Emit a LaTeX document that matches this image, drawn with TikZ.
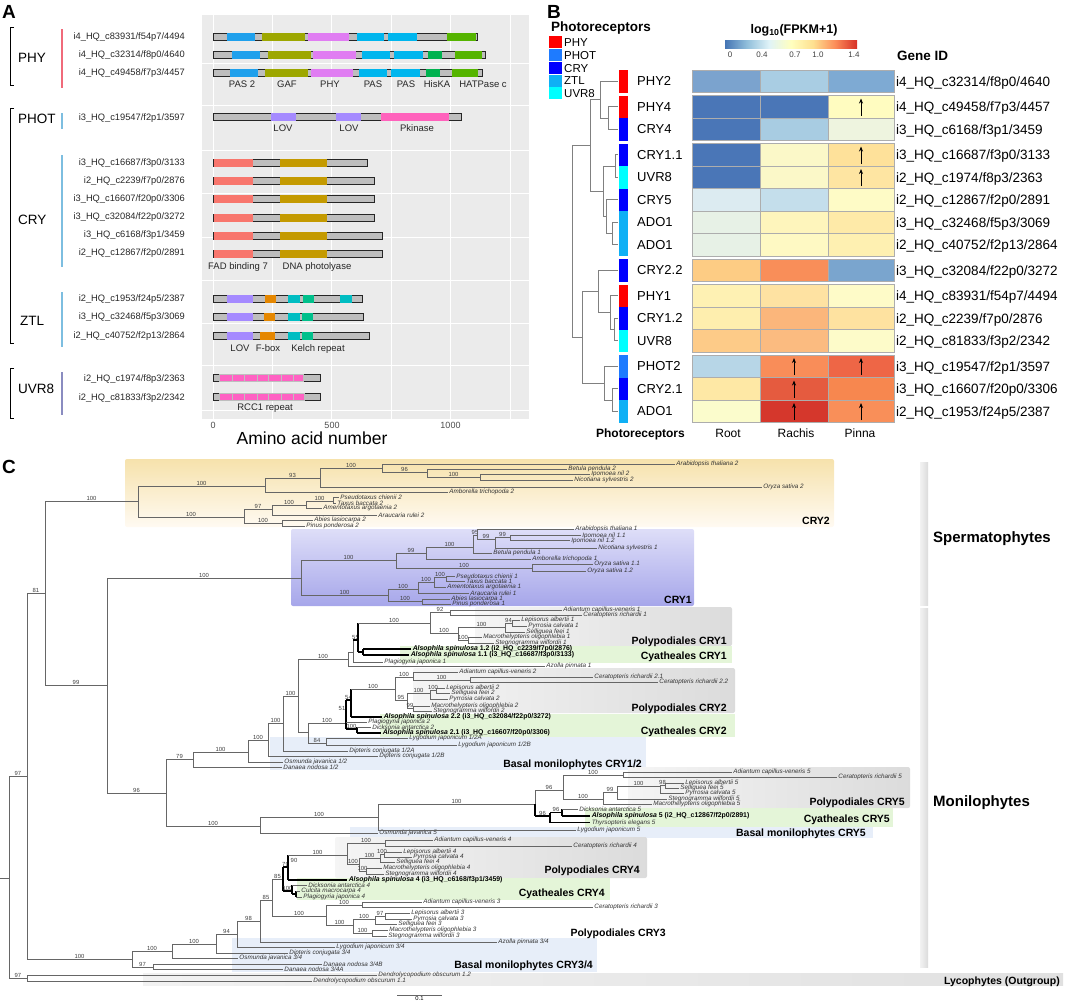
\documentclass[tikz,border=0pt]{standalone}
\usepackage{fontspec}
\setmainfont{Liberation Sans}
\usetikzlibrary{arrows.meta}
\definecolor{tg}{HTML}{666666}
\definecolor{panelbg}{HTML}{EBEBEB}
\definecolor{barg}{HTML}{BEBEBE}
\definecolor{dPAStwo}{HTML}{1FA0EC}
\definecolor{dGAF}{HTML}{9DA700}
\definecolor{dPHY}{HTML}{E07DF2}
\definecolor{dPAS}{HTML}{00B6EE}
\definecolor{dHisKA}{HTML}{00B24F}
\definecolor{dHATP}{HTML}{55B400}
\definecolor{dLOV}{HTML}{A58AFF}
\definecolor{dPkin}{HTML}{FF62BC}
\definecolor{dFAD}{HTML}{F8766D}
\definecolor{dDNA}{HTML}{C49A00}
\definecolor{dFbox}{HTML}{E58700}
\definecolor{dKelA}{HTML}{00BDC2}
\definecolor{dKelB}{HTML}{00C08B}
\definecolor{dRCC}{HTML}{FF61C3}
\definecolor{gPHY}{HTML}{F06A7A}
\definecolor{gBLU}{HTML}{7DBEE0}
\definecolor{gUVR}{HTML}{8A8CC0}
\definecolor{lPHY}{HTML}{FF0000}
\definecolor{lPHOT}{HTML}{1E7BFF}
\definecolor{lCRY}{HTML}{0000FF}
\definecolor{lZTL}{HTML}{0FB0F5}
\definecolor{lUVR}{HTML}{00FFFF}
\definecolor{cb0}{HTML}{4575B4}
\definecolor{cb1}{HTML}{91BFDB}
\definecolor{cb2}{HTML}{E0F3F8}
\definecolor{cb3}{HTML}{FFFFBF}
\definecolor{cb4}{HTML}{FEE090}
\definecolor{cb5}{HTML}{FC8D59}
\definecolor{cb6}{HTML}{D73027}
\definecolor{bxgreen}{HTML}{E4F5D8}
\definecolor{bxblue}{HTML}{E7EEF9}
\newcounter{nc}
\newcommand\hbr[4]{\stepcounter{nc}\draw[tree] (#1,#3) -- (#2,#3) node[midway,sv] (s\arabic{nc}) {#4};}
\newcommand\hbk[4]{\stepcounter{nc}\draw[blk] (#1,#3) -- (#2,#3) node[midway,sv] (s\arabic{nc}) {#4};}
\newcommand\vbr[3]{\draw[tree] (#1,#2) -- (#1,#3);}
\newcommand\vbk[3]{\draw[blk] (#1,#2) -- (#1,#3);}
\newcommand\lfa[4]{\stepcounter{nc}\draw[tree] (#1,#3) -- (#2,#3) node[lfl] (f\arabic{nc}) {#4};}
\newcommand\lfk[4]{\stepcounter{nc}\draw[blk] (#1,#3) -- (#2,#3) node[lfb] (f\arabic{nc}) {#4};}
\newcommand\lfkn[4]{\stepcounter{nc}\draw[blk] (#1,#3) -- (#2,#3) node[lfl] (f\arabic{nc}) {#4};}
\newcommand\pbar[2]{\filldraw[fill=barg,draw=black!85,line width=0.55pt] (213,#1-3.5) rectangle (#2,#1+3.5);}
\newcommand\dom[4]{\fill[#4] (#1,#3-3.6) rectangle (#2,#3+3.6);}
\newcommand\rcc[2]{\foreach \a/\b in {219/232,232/244,244/257,257/268,268/281,281/293,293/#2}{\filldraw[fill=dRCC,draw=barg,line width=0.4pt] (\a,#1-3.6) rectangle (\b,#1+3.6);}}
\newcommand\hmrow[4]{\definecolor{hmA}{HTML}{#2}\definecolor{hmB}{HTML}{#3}\definecolor{hmC}{HTML}{#4}%
 \filldraw[cell,fill=hmA] (692,#1) rectangle (760,#1+22.5);
 \filldraw[cell,fill=hmB] (760,#1) rectangle (828,#1+22.5);
 \filldraw[cell,fill=hmC] (828,#1) rectangle (894,#1+22.5);}
\newcommand\uparr[2]{\draw[-{Stealth[length=5pt,width=4pt]},line width=0.9pt] (#1,#2+20) -- (#1,#2+3);}
\begin{document}
\begin{tikzpicture}[x=1pt,y=-1pt,
  tree/.style={draw=tg,line width=0.55pt},
  blk/.style={draw=black,line width=1.1pt},
  sv/.style={anchor=south,font=\fontsize{5.9}{6}\selectfont,text=black!75,inner sep=0.4pt},
  lfl/.style={anchor=west,font=\fontsize{6.3}{6.5}\selectfont\itshape,text=black!80,inner sep=1.2pt},
  lfb/.style={anchor=west,font=\fontsize{6.9}{7}\selectfont\bfseries,text=black,inner sep=1.2pt},
  plab/.style={anchor=base west,font=\fontsize{19}{20}\selectfont\bfseries,inner sep=0pt},
  gene/.style={anchor=base east,font=\fontsize{9.3}{10}\selectfont,text=black!85,inner sep=0pt},
  grp/.style={anchor=base west,font=\fontsize{13.5}{14}\selectfont,inner sep=0pt},
  dl/.style={anchor=base,font=\fontsize{9.5}{10}\selectfont,text=black!85,inner sep=0pt},
  tick/.style={anchor=base,font=\fontsize{9}{10}\selectfont,text=black!70,inner sep=0pt},
  cell/.style={draw=black!32,line width=0.8pt},
  rl/.style={anchor=base west,font=\fontsize{13}{14}\selectfont,inner sep=0pt},
  gid/.style={anchor=base west,font=\fontsize{13.5}{14}\selectfont,inner sep=0pt},
  den/.style={draw=black!50,line width=0.8pt},
  sec/.style={anchor=base east,font=\fontsize{10.5}{11}\selectfont\bfseries,inner sep=0pt},
  big/.style={anchor=base west,font=\fontsize{15}{16}\selectfont\bfseries,inner sep=0pt}]
\useasboundingbox (0,0) rectangle (1065,1007);
%================ PANEL A =================
\node[plab] (pA) at (2,18) {A};
\fill[panelbg] (202,15) rectangle (529,419);
\foreach \yy in {63,105,150,193,237,280,323,365,410} \draw[white,line width=0.9pt] (202,\yy) -- (529,\yy);
\foreach \xx in {272.4,391.1,509.9} \draw[white,line width=0.5pt] (\xx,15) -- (\xx,419);
\foreach \xx in {213,331.8,450.5} \draw[white,line width=1pt] (\xx,15) -- (\xx,419);
\draw[black,line width=0.7pt] (14,27) -- (10,27) -- (10,85) -- (14,85);
\draw[black,line width=0.7pt] (14,108) -- (10,108) -- (10,343) -- (14,343);
\draw[black,line width=0.7pt] (14,368) -- (10,368) -- (10,418) -- (14,418);
\node[grp] (gPHYl) at (18,62) {PHY};
\node[grp] (gPHOTl) at (18,123) {PHOT};
\node[grp] (gCRYl) at (18,224) {CRY};
\node[grp] (gZTLl) at (20,325) {ZTL};
\node[grp] (gUVRl) at (18,393) {UVR8};
\draw[gPHY,line width=2.4pt] (62,29) -- (62,88);
\draw[gBLU,line width=2.4pt] (62,113) -- (62,129);
\draw[gBLU,line width=2.4pt] (62,155) -- (62,267);
\draw[gBLU,line width=2.4pt] (62,292) -- (62,347);
\draw[gUVR,line width=2.4pt] (62,372) -- (62,415);
\node[gene] (a1) at (185,39.4) {i4\_HQ\_c83931/f54p7/4494};
\node[gene] (a2) at (185,57.4) {i4\_HQ\_c32314/f8p0/4640};
\node[gene] (a3) at (185,75.4) {i4\_HQ\_c49458/f7p3/4457};
\node[gene] (a4) at (185,120.4) {i3\_HQ\_c19547/f2p1/3597};
\node[gene] (a5) at (185,165.4) {i3\_HQ\_c16687/f3p0/3133};
\node[gene] (a6) at (185,183.4) {i2\_HQ\_c2239/f7p0/2876};
\node[gene] (a7) at (185,201.4) {i3\_HQ\_c16607/f20p0/3306};
\node[gene] (a8) at (185,219.4) {i3\_HQ\_c32084/f22p0/3272};
\node[gene] (a9) at (185,237.4) {i3\_HQ\_c6168/f3p1/3459};
\node[gene] (a10) at (185,255.4) {i2\_HQ\_c12867/f2p0/2891};
\node[gene] (a11) at (185,301.4) {i2\_HQ\_c1953/f24p5/2387};
\node[gene] (a12) at (185,319.4) {i3\_HQ\_c32468/f5p3/3069};
\node[gene] (a13) at (185,338.4) {i2\_HQ\_c40752/f2p13/2864};
\node[gene] (a14) at (185,381.4) {i2\_HQ\_c1974/f8p3/2363};
\node[gene] (a15) at (185,400.4) {i2\_HQ\_c81833/f3p2/2342};
\pbar{37}{477}\dom{227}{255}{37}{dPAStwo}\dom{262}{305}{37}{dGAF}\dom{308}{349}{37}{dPHY}\dom{357}{384}{37}{dPAS}\dom{388}{417}{37}{dPAS}\dom{447}{476}{37}{dHATP}
\pbar{55}{485}\dom{232}{260}{55}{dPAStwo}\dom{268}{311}{55}{dGAF}\dom{313}{356}{55}{dPHY}\dom{362}{390}{55}{dPAS}\dom{394}{423}{55}{dPAS}\dom{428}{442}{55}{dHisKA}\dom{455}{482}{55}{dHATP}
\pbar{73}{482}\dom{230}{258}{73}{dPAStwo}\dom{265}{308}{73}{dGAF}\dom{311}{353}{73}{dPHY}\dom{359}{387}{73}{dPAS}\dom{391}{420}{73}{dPAS}\dom{426}{440}{73}{dHisKA}\dom{452}{478}{73}{dHATP}
\node[dl] (dl1) at (242,87.4) {PAS 2};
\node[dl] (dl2) at (287,87.4) {GAF};
\node[dl] (dl3) at (330,87.4) {PHY};
\node[dl] (dl4) at (373,87.4) {PAS};
\node[dl] (dl5) at (406,87.4) {PAS};
\node[dl] (dl6) at (437,87.4) {HisKA};
\node[dl] (dl7) at (483,87.4) {HATPase c};
\pbar{117}{461}\dom{271}{296}{117}{dLOV}\dom{336}{361}{117}{dLOV}\dom{381}{449}{117}{dPkin}
\node[dl] (dl8) at (283,131.4) {LOV};
\node[dl] (dl9) at (349,131.4) {LOV};
\node[dl] (dl10) at (417,131.4) {Pkinase};
\foreach \yy/\ee in {163/367,181/374,199/374,218/374,236/382,254/382}{\pbar{\yy}{\ee}\dom{214}{253}{\yy}{dFAD}\dom{280}{327}{\yy}{dDNA}}
\node[dl] (dl11) at (238,269.4) {FAD binding 7};
\node[dl] (dl12) at (317,269.4) {DNA photolyase};
\pbar{299}{362}\dom{227}{253}{299}{dLOV}\dom{265}{276}{299}{dFbox}\dom{288}{300}{299}{dKelA}\dom{303}{314}{299}{dKelB}\dom{340}{352}{299}{dKelA}
\pbar{317}{363}\dom{227}{253}{317}{dLOV}\dom{264}{275}{317}{dFbox}\dom{288}{300}{317}{dKelA}\dom{302}{313}{317}{dKelB}
\pbar{336}{369}\dom{227}{253}{336}{dLOV}\dom{260}{275}{336}{dFbox}\dom{288}{300}{336}{dKelA}\dom{302}{313}{336}{dKelB}
\node[dl] (dl13) at (240,351.4) {LOV};
\node[dl] (dl14) at (268,351.4) {F-box};
\node[dl] (dl15) at (318,351.4) {Kelch repeat};
\pbar{378}{320}\rcc{378}{303}
\pbar{397}{320}\rcc{397}{304}
\node[dl] (dl16) at (265,410.4) {RCC1 repeat};
\node[tick] (t0) at (213,428.2) {0};
\node[tick] (t500) at (332,428.2) {500};
\node[tick] (t1000) at (450.5,428.2) {1000};
\node[anchor=base,font=\fontsize{17.5}{18}\selectfont,inner sep=0pt] (xax) at (312,444.5) {Amino acid number};
%================ PANEL B =================
\node[plab] (pB) at (547,18) {B};
\node[anchor=base west,font=\fontsize{13.5}{14}\selectfont\bfseries,inner sep=0pt] (ltit) at (551,31.9) {Photoreceptors};
\fill[lPHY] (549,36) rectangle (562,48);
\fill[lPHOT] (549,49) rectangle (562,61);
\fill[lCRY] (549,62) rectangle (562,74);
\fill[lZTL] (549,74.5) rectangle (562,86.5);
\fill[lUVR] (549,87) rectangle (562,99);
\node[anchor=base west,font=\fontsize{11.5}{12}\selectfont,inner sep=0pt] (lg1) at (564,46.1) {PHY};
\node[anchor=base west,font=\fontsize{11.5}{12}\selectfont,inner sep=0pt] (lg2) at (564,59.1) {PHOT};
\node[anchor=base west,font=\fontsize{11.5}{12}\selectfont,inner sep=0pt] (lg3) at (564,72.1) {CRY};
\node[anchor=base west,font=\fontsize{11.5}{12}\selectfont,inner sep=0pt] (lg4) at (564,84.6) {ZTL};
\node[anchor=base west,font=\fontsize{11.5}{12}\selectfont,inner sep=0pt] (lg5) at (564,97.1) {UVR8};
\node[anchor=base,font=\fontsize{12.5}{13}\selectfont\bfseries,inner sep=0pt] (cbt) at (794,33.3) {log\textsubscript{10}(FPKM+1)};
\shade[left color=cb0,right color=cb1] (725,40) rectangle (747,48.3);
\shade[left color=cb1,right color=cb2] (747,40) rectangle (769,48.3);
\shade[left color=cb2,right color=cb3] (769,40) rectangle (791,48.3);
\shade[left color=cb3,right color=cb4] (791,40) rectangle (813,48.3);
\shade[left color=cb4,right color=cb5] (813,40) rectangle (835,48.3);
\shade[left color=cb5,right color=cb6] (835,40) rectangle (857,48.3);
\foreach \xx/\tt in {730/0,762/0.4,795/0.7,818/1.0,854/1.4}{\node[anchor=base,font=\fontsize{8}{9}\selectfont,text=black!75,inner sep=0pt] at (\xx,57.9) {\tt};}
\node[anchor=base west,font=\fontsize{13.5}{14}\selectfont\bfseries,inner sep=0pt] (gidt) at (897,60.9) {Gene ID};
\hmrow{70}{7BA3CE}{A9CDE3}{7EAAD3}
\hmrow{95.5}{4A76B7}{4A76B7}{FFFCC0}
\hmrow{118}{4A76B7}{A8CCE2}{EEF4DF}
\hmrow{143.5}{4A76B7}{FBF8C8}{FEE19A}
\hmrow{166}{4A76B7}{FBF8C8}{FEE5A2}
\hmrow{188.5}{DCEBF1}{C4DEEB}{FEFBC6}
\hmrow{211}{E7F1E6}{FEF5BC}{FEEAA8}
\hmrow{233.5}{E7F1E6}{FEF9C3}{FEF0B1}
\hmrow{259}{FDCC84}{F98E59}{7AA5CE}
\hmrow{284.5}{FEF1B3}{FEE2A2}{FEFBC8}
\hmrow{307}{FEEEAE}{FBB67B}{FEE2A0}
\hmrow{329.5}{FDCB88}{FBBB80}{FDFBC9}
\hmrow{355}{B7D6E7}{F98D59}{EE6646}
\hmrow{377.5}{FEE8A5}{E55B3F}{F7874F}
\hmrow{400}{FBFCCC}{D5372C}{F98F59}
\uparr{861}{95.5}\uparr{861}{143.5}\uparr{861}{166}
\uparr{794}{355}\uparr{861}{355}\uparr{794}{377.5}\uparr{794}{400}\uparr{861}{400}
\foreach \tp/\cc in {70/lPHY,95.5/lPHY,118/lCRY,143.5/lCRY,166/lUVR,188.5/lCRY,211/lZTL,233.5/lZTL,259/lCRY,284.5/lPHY,307/lCRY,329.5/lUVR,355/lPHOT,377.5/lCRY,400/lZTL}{\fill[\cc] (619,\tp) rectangle (628,\tp+22.5);}
\node[rl] (r1) at (637,85.95) {PHY2};
\node[rl] (r2) at (637,111.45) {PHY4};
\node[rl] (r3) at (637,133.95) {CRY4};
\node[rl] (r4) at (637,159.45) {CRY1.1};
\node[rl] (r5) at (637,181.95) {UVR8};
\node[rl] (r6) at (637,204.45) {CRY5};
\node[rl] (r7) at (637,226.95) {ADO1};
\node[rl] (r8) at (637,249.45) {ADO1};
\node[rl] (r9) at (637,274.95) {CRY2.2};
\node[rl] (r10) at (637,300.45) {PHY1};
\node[rl] (r11) at (637,322.95) {CRY1.2};
\node[rl] (r12) at (637,345.45) {UVR8};
\node[rl] (r13) at (637,370.95) {PHOT2};
\node[rl] (r14) at (637,393.45) {CRY2.1};
\node[rl] (r15) at (637,415.95) {ADO1};
\node[gid] (b1) at (896,86.1) {i4\_HQ\_c32314/f8p0/4640};
\node[gid] (b2) at (896,111.6) {i4\_HQ\_c49458/f7p3/4457};
\node[gid] (b3) at (896,134.1) {i3\_HQ\_c6168/f3p1/3459};
\node[gid] (b4) at (896,159.6) {i3\_HQ\_c16687/f3p0/3133};
\node[gid] (b5) at (896,182.1) {i2\_HQ\_c1974/f8p3/2363};
\node[gid] (b6) at (896,204.6) {i2\_HQ\_c12867/f2p0/2891};
\node[gid] (b7) at (896,227.1) {i3\_HQ\_c32468/f5p3/3069};
\node[gid] (b8) at (896,249.6) {i2\_HQ\_c40752/f2p13/2864};
\node[gid] (b9) at (896,275.1) {i3\_HQ\_c32084/f22p0/3272};
\node[gid] (b10) at (896,300.6) {i4\_HQ\_c83931/f54p7/4494};
\node[gid] (b11) at (896,323.1) {i2\_HQ\_c2239/f7p0/2876};
\node[gid] (b12) at (896,345.6) {i2\_HQ\_c81833/f3p2/2342};
\node[gid] (b13) at (896,371.1) {i3\_HQ\_c19547/f2p1/3597};
\node[gid] (b14) at (896,393.6) {i3\_HQ\_c16607/f20p0/3306};
\node[gid] (b15) at (896,416.1) {i2\_HQ\_c1953/f24p5/2387};
\draw[den] (618,106.75) -| (608,129.25) -- (618,129.25);
\draw[den] (618,81.25) -| (600,118) -- (608,118);
\draw[den] (618,154.75) -| (615,177.25) -- (618,177.25);
\draw[den] (618,222.25) -| (612,244.75) -- (618,244.75);
\draw[den] (618,199.75) -| (606,233.5) -- (612,233.5);
\draw[den] (615,166) -| (603,216.6) -- (606,216.6);
\draw[den] (600,99.6) -| (590,191.3) -- (603,191.3);
\draw[den] (618,318.25) -| (614,340.75) -- (618,340.75);
\draw[den] (618,295.75) -| (610,329.5) -- (614,329.5);
\draw[den] (618,270.25) -| (598,312.6) -- (610,312.6);
\draw[den] (618,388.75) -| (612,411.25) -- (618,411.25);
\draw[den] (618,366.25) -| (604,400) -- (612,400);
\draw[den] (598,291.4) -| (582,383) -- (604,383);
\draw[den] (590,145.5) -| (572,337) -- (582,337);
\node[anchor=base east,font=\fontsize{12}{13}\selectfont\bfseries,inner sep=0pt] (bph) at (685,437.3) {Photoreceptors};
\node[anchor=base,font=\fontsize{12}{13}\selectfont,inner sep=0pt] (broot) at (728,437.3) {Root};
\node[anchor=base,font=\fontsize{12}{13}\selectfont,inner sep=0pt] (brach) at (796,437.3) {Rachis};
\node[anchor=base,font=\fontsize{12}{13}\selectfont,inner sep=0pt] (bpin) at (860,437.3) {Pinna};
%================ PANEL C =================
\node[plab] (pC) at (2,473) {C};
\shade[top color={rgb,255:red,246;green,226;blue,172},bottom color={rgb,255:red,255;green,250;blue,242},rounded corners=2pt] (125,459) rectangle (834,527);
\shade[top color={rgb,255:red,222;green,222;blue,248},bottom color={rgb,255:red,166;green,166;blue,234},rounded corners=2pt] (291,529) rectangle (694,606);
\shade[left color=black!4,right color=black!14,rounded corners=2pt] (475,607) rectangle (732,646);
\fill[bxgreen] (400,646) rectangle (732,663);
\shade[left color=black!4,right color=black!14,rounded corners=2pt] (413,668) rectangle (735,713);
\fill[bxgreen] (380,714) rectangle (735,737);
\fill[bxblue] (270,737) rectangle (646,770);
\shade[left color=black!4,right color=black!14,rounded corners=2pt] (628,767) rectangle (910,808);
\fill[bxgreen] (585,808) rectangle (893,827);
\fill[bxblue] (350,827) rectangle (873,838);
\shade[left color=black!4,right color=black!14,rounded corners=2pt] (335,837) rectangle (647,878);
\fill[bxgreen] (297,878) rectangle (610,900);
\fill[bxblue] (232,938) rectangle (597,972);
\shade[left color=black!5,right color=black!12] (143,973) rectangle (1063,985);
\shade[left color=black!5,right color=black!14] (920,462) rectangle (928,605);
\shade[left color=black!5,right color=black!14] (920,608) rectangle (928,967);
\node[sec] (sCRY2) at (830,524) {CRY2};
\node[sec] (sCRY1) at (692,603) {CRY1};
\node[sec] (sP1) at (727,644) {Polypodiales CRY1};
\node[sec] (sC1) at (727,659) {Cyatheales CRY1};
\node[sec] (sP2) at (727,711) {Polypodiales CRY2};
\node[sec] (sC2) at (727,734) {Cyatheales CRY2};
\node[sec] (sB12) at (642,767) {Basal monilophytes CRY1/2};
\node[sec] (sP5) at (905,805) {Polypodiales CRY5};
\node[sec] (sC5) at (890,822) {Cyatheales CRY5};
\node[sec] (sB5) at (866,836) {Basal monilophytes CRY5};
\node[sec] (sP4) at (640,873) {Polypodiales CRY4};
\node[sec] (sC4) at (605,896) {Cyatheales CRY4};
\node[sec] (sP3) at (666,936) {Polypodiales CRY3};
\node[sec] (sB34) at (593,968) {Basal monilophytes CRY3/4};
\node[sec] (sLy) at (1060,984) {Lycophytes (Outgroup)};
\node[big] (sSp) at (933,542.4) {Spermatophytes};
\node[big] (sMo) at (933,806.4) {Monilophytes};
% ---- tree ----
\draw[tree] (0,878) -- (9,878);
\vbr{9}{776}{978}
\hbr{9}{27}{776}{97}
\vbr{27}{593}{959}
\hbr{27}{45}{593}{81}
\vbr{45}{501}{685}
\hbr{45}{138}{501}{100}
\vbr{138}{486}{517}
\hbr{138}{265}{486}{100}
\vbr{265}{478}{492}
\hbr{265}{320}{478}{93}
\vbr{320}{468}{487}
\hbr{320}{382}{468}{100}
\vbr{382}{464}{472}
\lfa{382}{675}{464}{Arabidopsis thaliana 2}
\hbr{382}{427}{472}{96}
\vbr{427}{469}{477}
\lfa{427}{567}{469}{Betula pendula 2}
\hbr{427}{480}{477}{100}
\vbr{480}{474}{480}
\lfa{480}{590}{474}{Ipomoea nil 2}
\lfa{480}{573}{480}{Nicotiana sylvestris 2}
\lfa{320}{762}{487}{Oryza sativa 2}
\lfa{265}{448}{492}{Amborella trichopoda 2}
\hbr{138}{244}{517}{100}
\vbr{244}{509}{523}
\hbr{244}{272}{509}{97}
\vbr{272}{505}{515}
\hbr{272}{306}{505}{100}
\vbr{306}{501}{508}
\hbr{306}{333}{501}{100}
\vbr{333}{497}{503}
\lfa{333}{339}{497}{Pseudotaxus chienii 2}
\lfa{333}{336}{503}{Taxus baccata 2}
\lfa{306}{322}{508}{Amentotaxus argotaenia 2}
\lfa{272}{377}{515}{Araucaria rulei 2}
\hbr{244}{282}{523}{100}
\vbr{282}{520}{526}
\lfa{282}{313}{520}{Abies lasiocarpa 2}
\lfa{282}{305}{526}{Pinus ponderosa 2}
\hbr{45}{107}{685}{99}
\vbr{107}{578}{793}
\hbr{107}{301}{578}{100}
\vbr{301}{560}{595}
\hbr{301}{396}{560}{100}
\vbr{396}{553}{568}
\hbr{396}{426}{553}{99}
\vbr{426}{547}{559}
\hbr{426}{473}{547}{100}
\vbr{473}{535}{553}
\hbr{473}{477}{535}{95}
\vbr{477}{529}{539}
\lfa{477}{574}{529}{Arabidopsis thaliana 1}
\hbr{477}{495}{539}{99}
\vbr{495}{537}{548}
\hbr{495}{510}{537}{99}
\vbr{510}{535}{540}
\lfa{510}{581}{535.5}{Ipomoea nil 1.1}
\lfa{510}{570}{540.5}{Ipomoea nil 1.2}
\lfa{495}{597}{548}{Nicotiana sylvestris 1}
\lfa{473}{492}{553}{Betula pendula 1}
\lfa{426}{531}{559}{Amborella trichopoda 1}
\hbr{396}{532}{568}{100}
\vbr{532}{564}{571}
\lfa{532}{593}{564}{Oryza sativa 1.1}
\lfa{532}{586}{571}{Oryza sativa 1.2}
\hbr{301}{388}{595}{100}
\vbr{388}{589}{601}
\hbr{388}{418}{589}{100}
\vbr{418}{582}{593}
\hbr{418}{434}{582}{100}
\vbr{434}{577}{587}
\hbr{434}{446}{577}{100}
\vbr{446}{576}{581}
\lfa{446}{455}{576}{Pseudotaxus chienii 1}
\lfa{446}{465}{581}{Taxus baccata 1}
\lfa{434}{446}{587}{Amentotaxus argotaenia 1}
\lfa{418}{469}{593}{Araucaria rulei 1}
\hbr{388}{422}{601}{100}
\vbr{422}{599}{604}
\lfa{422}{450}{599}{Abies lasiocarpa 1}
\lfa{422}{451}{604}{Pinus ponderosa 1}
\hbr{107}{166}{793}{96}
\vbr{166}{759}{826}
\hbr{166}{193}{759}{79}
\vbr{193}{752}{767}
\hbr{193}{248}{752}{100}
\lfa{193}{282}{767}{Danaea nodosa 1/2}
\vbr{248}{740}{762}
\hbr{248}{268}{740}{100}
\lfa{248}{283}{762}{Osmunda javanica 1/2}
\vbr{268}{723}{756}
\hbr{268}{283}{723}{100}
\lfa{268}{378}{756}{Dipteris conjugata 1/2B}
\vbr{283}{696}{751}
\hbr{283}{298}{696}{100}
\lfa{283}{348}{751}{Dipteris conjugata 1/2A}
\vbr{298}{659}{732}
\hbr{298}{348}{659}{100}
\hbr{298}{308}{732}{}
\vbr{308}{723}{743}
\hbr{308}{346}{723}{100}
\hbr{308}{326}{743}{84}
\vbr{326}{738}{745}
\lfa{326}{408}{738}{Lygodium japonicum 1/2A}
\lfa{326}{457}{745}{Lygodium japonicum 1/2B}
\vbr{348}{652}{666}
\hbr{348}{353}{652}{}
\lfa{348}{545}{666}{Azolla pinnata 1}
\vbr{353}{640}{662}
\lfa{353}{383}{662}{Plagiogyria japonica 1}
\hbk{353}{358}{640}{55}
\vbk{358}{623}{652}
\hbr{358}{430}{623}{100}
\hbk{358}{363}{652}{}
\vbk{363}{649}{655}
\lfk{363}{411}{649}{\textit{Alsophila spinulosa} 1.2 (i2\_HQ\_c2239/f7p0/2876)}
\lfk{363}{409}{655}{\textit{Alsophila spinulosa} 1.1 (i3\_HQ\_c16687/f3p0/3133)}
\vbr{430}{612}{633}
\hbr{430}{450}{612}{92}
\vbr{450}{610}{615}
\lfa{450}{562}{610}{Adiantum capillus-veneris 1}
\lfa{450}{582}{615}{Ceratopteris richardii 1}
\hbr{430}{458}{633}{100}
\vbr{458}{627}{640}
\hbr{458}{505}{627}{100}
\vbr{505}{623}{632}
\hbr{505}{512}{623}{94}
\vbr{512}{620}{626}
\lfa{512}{520}{620}{Lepisorus albertii 1}
\lfa{512}{527}{626}{Pyrrosia calvata 1}
\lfa{505}{525}{632}{Selliguea feei 1}
\hbr{458}{468}{640}{100}
\vbr{468}{637}{643}
\lfa{468}{482}{637}{Macrothelypteris oligophlebia 1}
\lfa{468}{494}{643}{Stegnogramma wilfordii 1}
\vbk{346}{700}{729}
\hbk{346}{351}{700}{54}
\vbk{351}{689}{717}
\hbr{351}{395}{689}{100}
\lfk{351}{382}{717}{\textit{Alsophila spinulosa} 2.2 (i3\_HQ\_c32084/f22p0/3272)}
\node[sv] (s51) at (342,711) {51};
\lfa{346}{367}{722}{Plagiogyria japonica 2}
\hbk{346}{357}{729}{100}
\vbk{357}{727}{733}
\lfa{357}{371}{727}{Dicksonia antarctica 2}
\lfk{357}{381}{733}{\textit{Alsophila spinulosa} 2.1 (i3\_HQ\_c16607/f20p0/3306)}
\vbr{395}{677}{700}
\hbr{395}{413}{677}{100}
\vbr{413}{672}{680}
\lfa{413}{458}{672}{Adiantum capillus-veneris 2}
\hbr{413}{470}{680}{100}
\vbr{470}{677}{682}
\lfa{470}{593}{677}{Ceratopteris richardii 2.1}
\lfa{470}{658}{682}{Ceratopteris richardii 2.2}
\hbr{395}{407}{700}{95}
\vbr{407}{693}{708}
\hbr{407}{430}{693}{100}
\vbr{430}{690}{699}
\hbr{430}{436}{690}{100}
\vbr{436}{688}{693}
\lfa{436}{445}{688}{Lepisorus albertii 2}
\lfa{436}{450}{693}{Selliguea feei 2}
\lfa{430}{448}{699}{Pyrrosia calvata 2}
\hbr{407}{413}{708}{99}
\vbr{413}{706}{711}
\lfa{413}{430}{706}{Macrothelypteris oligophlebia 2}
\lfa{413}{432}{711}{Stegnogramma wilfordii 2}
\hbr{166}{260}{826}{100}
\vbr{260}{817}{833}
\hbr{260}{378}{817}{100}
\lfa{260}{378}{833}{Osmunda javanica 5}
\vbr{378}{804}{830}
\hbr{378}{535}{804}{100}
\lfa{378}{576}{830}{Lygodium japonicum 5}
\vbr{535}{790}{804}
\vbk{535}{804}{816}
\hbr{535}{563}{790}{96}
\hbk{535}{550}{816}{96}
\vbr{563}{775}{799}
\hbr{563}{623}{775}{100}
\vbr{623}{772}{777}
\lfa{623}{732}{772}{Adiantum capillus-veneris 5}
\lfa{623}{837}{777}{Ceratopteris richardii 5}
\hbr{563}{603}{799}{100}
\vbr{603}{792}{804}
\hbr{603}{617}{792}{99}
\lfa{603}{652}{804}{Macrothelypteris oligophlebia 5}
\vbr{617}{786}{799}
\hbr{617}{660}{786}{100}
\lfa{617}{667}{799}{Stegnogramma wilfordii 5}
\vbr{660}{785.5}{793}
\hbr{660}{665}{785.5}{98}
\vbr{665}{783}{788}
\lfa{665}{684}{783}{Lepisorus albertii 5}
\lfa{665}{679}{788}{Selliguea feei 5}
\lfa{660}{684}{793}{Pyrrosia calvata 5}
\vbk{550}{812.5}{822.5}
\hbk{550}{562}{812.5}{96}
\vbk{562}{809}{816}
\lfa{562}{578}{809}{Dicksonia antarctica 5}
\lfk{562}{590}{816}{\textit{Alsophila spinulosa} 5 (i2\_HQ\_c12867/f2p0/2891)}
\lfkn{550}{590}{822.5}{Thyrsopteris elegans 5}
\hbr{27}{132}{959}{100}
\vbr{132}{951}{967}
\hbr{132}{172}{951}{100}
\vbr{172}{944}{958}
\hbr{172}{216}{944}{100}
\lfa{172}{238}{958}{Osmunda javanica 3/4}
\vbr{216}{934}{953}
\hbr{216}{237}{934}{94}
\lfa{216}{288}{953}{Dipteris conjugata 3/4}
\vbr{237}{921}{947}
\hbr{237}{260}{921}{98}
\lfa{237}{335}{947}{Lygodium japonicum 3/4}
\vbr{260}{900}{942}
\hbr{260}{272}{900}{85}
\lfa{260}{497}{942}{Azolla pinnata 3/4}
\vbr{272}{879}{916}
\hbr{272}{283}{879}{85}
\vbk{283}{867}{891}
\hbk{283}{288}{867}{79}
\vbk{288}{855}{880}
\node[sv] (s90) at (294,863) {90};
\hbr{288}{347}{855}{100}
\lfk{288}{347}{880}{\textit{Alsophila spinulosa} 4 (i3\_HQ\_c6168/f3p1/3459)}
\hbk{283}{292}{891}{100}
\vbk{292}{885}{894}
\lfa{292}{307}{885}{Dicksonia antarctica 4}
\hbk{292}{296}{894}{}
\vbk{296}{891}{897}
\lfa{296}{300}{891}{Culcita macrocarpa 4}
\lfa{296}{302}{897}{Plagiogyria japonica 4}
\vbr{347}{843}{864.5}
\hbr{347}{385}{843}{100}
\vbr{385}{840}{846}
\lfa{385}{433}{840}{Adiantum capillus-veneris 4}
\lfa{385}{572}{846}{Ceratopteris richardii 4}
\hbr{347}{359}{864.5}{100}
\vbr{359}{858}{871}
\hbr{359}{380}{858}{100}
\vbr{380}{854.5}{862}
\hbr{380}{384}{854.5}{100}
\vbr{384}{852}{857}
\lfa{384}{402}{852}{Lepisorus albertii 4}
\lfa{384}{412}{857}{Pyrrosia calvata 4}
\lfa{380}{395}{862}{Selliguea feei 4}
\hbr{359}{366}{871}{100}
\vbr{366}{868}{874}
\lfa{366}{382}{868}{Macrothelypteris oligophlebia 4}
\lfa{366}{384}{874}{Stegnogramma wilfordii 4}
\hbr{272}{326}{916}{100}
\vbr{326}{905}{925}
\hbr{326}{362}{905}{100}
\vbr{362}{902}{907}
\lfa{362}{422}{902}{Adiantum capillus-veneris 3}
\lfa{362}{593}{907}{Ceratopteris richardii 3}
\hbr{326}{353}{925}{100}
\vbr{353}{919}{933}
\hbr{353}{375}{919}{100}
\vbr{375}{916}{924}
\hbr{375}{385}{916}{97}
\vbr{385}{913}{919}
\lfa{385}{410}{913}{Lepisorus albertii 3}
\lfa{385}{412}{919}{Pyrrosia calvata 3}
\lfa{375}{397}{924}{Selliguea feei 3}
\hbr{353}{372}{933}{100}
\vbr{372}{930}{936}
\lfa{372}{388}{930}{Macrothelypteris oligophlebia 3}
\lfa{372}{387}{936}{Stegnogramma wilfordii 3}
\hbr{132}{153}{967}{97}
\vbr{153}{964}{969}
\lfa{153}{322}{964}{Danaea nodosa 3/4B}
\lfa{153}{283}{969}{Danaea nodosa 3/4A}
\hbr{9}{27}{978}{97}
\vbr{27}{975}{981}
\lfa{27}{377}{975}{Dendrolycopodium obscurum 1.2}
\lfa{27}{312}{981}{Dendrolycopodium obscurum 1.1}
\draw[tree,line width=0.6pt] (397,995) -- (442,995) node[midway,below=0.5pt,font=\fontsize{5.8}{6}\selectfont,inner sep=0.5pt] (scl) {0.1};
\end{tikzpicture}
\end{document}
